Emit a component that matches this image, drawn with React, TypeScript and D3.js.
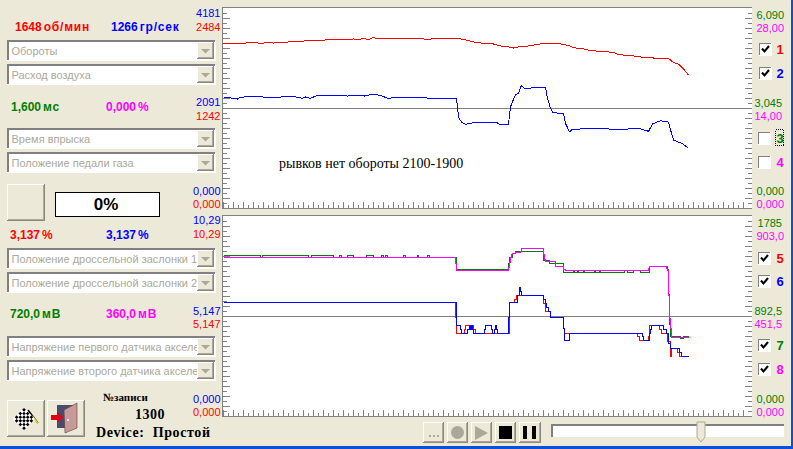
import React from "react";
import * as d3 from "d3";

// one sample per pixel column, the log is cut at sample 465 (record 1300)
const xDomain = [0, 528];

type Sample = [number, number];

const rpm: Sample[] = [
  [0, 2037], [5, 2043], [10, 2043], [15, 2049], [20, 2043], [25, 2055], [30, 2055], [35, 2049],
  [40, 2049], [45, 2055], [50, 2049], [55, 2055], [60, 2052], [65, 2062], [70, 2068], [75, 2062],
  [80, 2074], [85, 2083], [90, 2083], [95, 2083], [100, 2083], [105, 2093], [110, 2087], [115, 2093],
  [120, 2087], [125, 2093], [130, 2099], [135, 2093], [140, 2105], [145, 2093], [150, 2118], [155, 2099],
  [160, 2108], [165, 2108], [170, 2105], [175, 2099], [180, 2105], [185, 2105], [190, 2099], [195, 2105],
  [200, 2099], [205, 2093], [210, 2105], [215, 2105], [220, 2105], [225, 2108], [230, 2105], [235, 2105],
  [240, 2093], [245, 2080], [250, 2062], [255, 2055], [260, 2043], [265, 2037], [270, 2037], [275, 2018],
  [280, 2006], [285, 2000], [290, 1987], [295, 2000], [300, 2006], [305, 2012], [310, 2024], [315, 2031],
  [320, 2049], [325, 2049], [330, 2043], [335, 2043], [340, 2031], [345, 2018], [350, 1993], [355, 1981],
  [360, 1975], [365, 1962], [370, 1956], [375, 1944], [380, 1938], [385, 1938], [390, 1931], [395, 1906],
  [400, 1900], [405, 1894], [410, 1888], [415, 1882], [420, 1869], [425, 1875], [430, 1863], [435, 1863],
  [440, 1857], [445, 1857], [450, 1807], [455, 1788], [460, 1726], [465, 1652],
];

const air: Sample[] = [
  [0, 2305], [8, 2299], [13, 2299], [14, 2278], [17, 2314], [27, 2330], [40, 2320], [57, 2320],
  [68, 2326], [77, 2314], [78, 2289], [82, 2320], [87, 2293], [94, 2355], [112, 2355], [124, 2341],
  [139, 2355], [141, 2341], [147, 2368], [152, 2372], [157, 2355], [164, 2293], [177, 2314], [204, 2299],
  [233, 2293], [234, 2117], [235, 1896], [238, 1797], [242, 1749], [250, 1783], [274, 1783], [275, 1756],
  [285, 1749], [286, 1944], [287, 2117], [289, 2222], [292, 2362], [295, 2404], [298, 2564], [301, 2502],
  [317, 2518], [322, 2523], [324, 2293], [327, 2084], [329, 2000], [340, 1965], [342, 1770], [346, 1595],
  [349, 1645], [374, 1666], [390, 1645], [417, 1657], [425, 1603], [429, 1756], [437, 1825], [445, 1797],
  [448, 1561], [450, 1421], [459, 1344], [465, 1248],
];

const throttleA: Sample[] = [
  [0, 5.85], [232, 5.08], [233, 4.25], [241, 4.45], [242, 4.66], [250, 4.45], [252, 4.25], [285, 4.25],
  [286, 5.85], [291, 6.0], [293, 6.21], [320, 5.8], [322, 5.4], [327, 5.08], [340, 4.5], [341, 4.25],
  [414, 4.08], [416, 3.88], [425, 4.08], [426, 4.66], [436, 4.45], [438, 4.25], [444, 3.82], [447, 3.07],
  [448, 3.48], [454, 3.26], [456, 3.07], [465, 3.07],
];

const throttleB: Sample[] = [
  [0, 5.85], [233, 4.66], [237, 4.45], [238, 4.25], [244, 4.45], [246, 4.66], [247, 4.45], [248, 4.66],
  [249, 4.45], [250, 4.25], [261, 4.45], [262, 4.66], [268, 4.45], [269, 4.25], [271, 4.45], [272, 4.66],
  [273, 4.45], [274, 4.25], [285, 5.08], [286, 5.85], [294, 6.21], [296, 6.62], [297, 6.42], [298, 6.21],
  [320, 6.0], [322, 5.8], [323, 5.6], [325, 5.4], [327, 5.08], [340, 4.5], [341, 3.88], [346, 4.25],
  [419, 4.08], [420, 3.88], [426, 4.25], [427, 4.45], [428, 4.66], [440, 4.45], [443, 4.25], [445, 3.74],
  [447, 3.48], [456, 3.26], [458, 3.07], [465, 3.07],
];

const pedalA: Sample[] = [
  [0, 1434], [37, 1416], [39, 1434], [85, 1416], [88, 1434], [110, 1416], [116, 1434], [118, 1416],
  [124, 1434], [130, 1416], [143, 1434], [150, 1416], [158, 1434], [160, 1416], [162, 1434], [164, 1416],
  [180, 1434], [182, 1416], [194, 1434], [195, 1416], [204, 1434], [206, 1416], [233, 1309], [285, 1362],
  [286, 1416], [289, 1446], [292, 1470], [320, 1386], [326, 1357], [340, 1279], [350, 1297], [351, 1279],
  [354, 1297], [355, 1279], [360, 1297], [361, 1279], [371, 1297], [372, 1279], [376, 1297], [377, 1279],
  [401, 1297], [404, 1279], [410, 1297], [417, 1279], [426, 1336], [444, 1309], [445, 1080], [446, 820],
  [447, 708], [457, 696], [460, 708], [465, 708],
];

const pedalB: Sample[] = [
  [0, 716], [232, 689], [233, 658], [285, 671], [286, 694], [287, 716], [288, 731], [289, 734],
  [292, 739], [297, 744], [298, 757], [320, 727], [321, 705], [322, 697], [332, 677], [340, 662],
  [342, 656], [425, 667], [426, 676], [443, 667], [444, 659], [445, 545], [446, 441], [447, 396],
  [448, 355], [465, 355],
];

const leftLabels = [
  { text: "4181", y: 12.5, color: "#0000ff" },
  { text: "2484", y: 26.5, color: "#ff0000" },
  { text: "2091", y: 102, color: "#0000ff" },
  { text: "1242", y: 115.5, color: "#ff0000" },
  { text: "0,000", y: 190.5, color: "#0000ff" },
  { text: "0,000", y: 203.5, color: "#ff0000" },
  { text: "10,29", y: 220, color: "#0000ff" },
  { text: "10,29", y: 234, color: "#ff0000" },
  { text: "5,147", y: 310.5, color: "#0000ff" },
  { text: "5,147", y: 323.5, color: "#ff0000" },
  { text: "0,000", y: 398.5, color: "#0000ff" },
  { text: "0,000", y: 411.5, color: "#ff0000" },
];

const rightLabels = [
  { text: "6,090", x: 784, y: 14.5, color: "#008000" },
  { text: "28,00", x: 784, y: 27.5, color: "#ff00ff" },
  { text: "3,045", x: 782, y: 102.5, color: "#008000" },
  { text: "14,00", x: 782, y: 115.5, color: "#ff00ff" },
  { text: "0,000", x: 784, y: 190.5, color: "#008000" },
  { text: "0,000", x: 784, y: 204, color: "#ff00ff" },
  { text: "1785", x: 782, y: 222.5, color: "#008000" },
  { text: "903,0", x: 784, y: 235.5, color: "#ff00ff" },
  { text: "892,5", x: 782, y: 310.5, color: "#008000" },
  { text: "451,5", x: 782, y: 323.5, color: "#ff00ff" },
  { text: "0,000", x: 784, y: 398.5, color: "#008000" },
  { text: "0,000", x: 784, y: 412, color: "#ff00ff" },
];

const readouts = [
  { value: "1648", unit: "об/мин", x: 15, y: 26.5, color: "#ff0000" },
  { value: "1266", unit: "гр/сек", x: 111, y: 26.5, color: "#0000ff" },
  { value: "1,600", unit: "мс", x: 11, y: 106.5, color: "#008000" },
  { value: "0,000", unit: "%", x: 106, y: 106.5, color: "#ff00ff" },
  { value: "3,137", unit: "%", x: 10, y: 234.5, color: "#ff0000" },
  { value: "3,137", unit: "%", x: 106, y: 234.5, color: "#0000ff" },
  { value: "720,0", unit: "мВ", x: 10, y: 314, color: "#008000" },
  { value: "360,0", unit: "мВ", x: 106, y: 314, color: "#ff00ff" },
];

const combos = [
  { text: "Обороты", y: 41 },
  { text: "Расход воздуха", y: 65 },
  { text: "Время впрыска", y: 129 },
  { text: "Положение педали газа", y: 153 },
  { text: "Положение дроссельной заслонки 1", y: 249 },
  { text: "Положение дроссельной заслонки 2", y: 273 },
  { text: "Напряжение первого датчика акселератора", y: 337 },
  { text: "Напряжение второго датчика акселератора", y: 361 },
];

const checks = [
  { label: "1", y: 43, x: 759, checked: true, color: "#ff0000" },
  { label: "2", y: 67, x: 759, checked: true, color: "#0000ff" },
  { label: "3", y: 132, x: 758, checked: false, color: "#008000" },
  { label: "4", y: 156, x: 758, checked: false, color: "#ff00ff" },
  { label: "5", y: 252, x: 758, checked: true, color: "#ff0000" },
  { label: "6", y: 275, x: 758, checked: true, color: "#0000ff" },
  { label: "7", y: 339, x: 758, checked: true, color: "#008000" },
  { label: "8", y: 363, x: 758, checked: true, color: "#ff00ff" },
];

const BG = "#ece9d8";
const GRAY = "#808080";
const UI_FONT = "'Liberation Sans', sans-serif";

const plotLeft = 223;
const plotRight = 752;
const xScale = d3.scaleLinear().domain(xDomain).range([plotLeft, plotRight - 1]);

function Raised({ x, y, w, h }: { x: number; y: number; w: number; h: number }) {
  return (
    <g shapeRendering="crispEdges">
      <rect x={x} y={y} width={w} height={h} fill={BG} />
      <path d={`M${x + 0.5} ${y + h}V${y + 0.5}H${x + w}`} stroke="#ffffff" fill="none" />
      <path d={`M${x + w - 0.5} ${y}V${y + h - 0.5}H${x}`} stroke="#8c8a7c" fill="none" />
      <path d={`M${x + w - 1.5} ${y + 1}V${y + h - 1.5}H${x + 1}`} stroke="#aca899" fill="none" />
    </g>
  );
}

function Plot({ top, children }: { top: number; children: React.ReactNode }) {
  const bottom = top + 200;
  const div = d3.scaleLinear().domain([0, 40]).range([bottom, top]);
  const rows = d3.range(1, 40);
  const cols = d3.range(0, 105);
  return (
    <g shapeRendering="crispEdges">
      <rect x={plotLeft} y={top} width={plotRight - plotLeft} height={200} fill="#fff" />
      <g stroke={GRAY} strokeWidth={1}>
        {rows.map((r) => {
          const len = r % 2 === 0 ? 7 : 4;
          return (
            <g key={r}>
              <line x1={plotLeft} x2={plotLeft + len} y1={div(r) + 0.5} y2={div(r) + 0.5} />
              <line x1={plotRight - len} x2={plotRight} y1={div(r) + 0.5} y2={div(r) + 0.5} />
            </g>
          );
        })}
        {cols.map((c) => {
          const x = xScale(c * 5) + 0.5;
          const len = c % 2 === 0 ? 6 : 3;
          return <line key={c} x1={x} x2={x} y1={bottom - len} y2={bottom} />;
        })}
        <line x1={plotLeft} x2={plotRight} y1={div(20) + 0.5} y2={div(20) + 0.5} />
        <line x1={plotLeft - 0.5} x2={plotRight} y1={top - 0.5} y2={top - 0.5} strokeWidth={1.5} />
        <line x1={plotLeft - 0.5} x2={plotRight} y1={bottom + 0.5} y2={bottom + 0.5} strokeWidth={1.5} />
        <line x1={plotLeft - 0.5} x2={plotLeft - 0.5} y1={top - 1} y2={bottom + 1} strokeWidth={1.5} />
      </g>
      {children}
    </g>
  );
}

function Trace({
  data,
  max,
  top,
  color,
  curve,
}: {
  data: Sample[];
  max: number;
  top: number;
  color: string;
  curve: d3.CurveFactory;
}) {
  const yScale = d3.scaleLinear().domain([0, max]).range([top + 200, top]);
  const gen = d3
    .line<Sample>()
    .x((d) => xScale(d[0]) + 0.5)
    .y((d) => yScale(d[1]))
    .curve(curve);
  return <path d={gen(data) ?? ""} fill="none" stroke={color} strokeWidth={1} shapeRendering="crispEdges" />;
}

function Combo({ text, y, id }: { text: string; y: number; id: string }) {
  return (
    <g>
      <rect x={7} y={y} width={208} height={19} fill="#fff" />
      <path d={`M8 ${y + 19}V${y}H215`} stroke={GRAY} strokeWidth={2} fill="none" shapeRendering="crispEdges" />
      <path d={`M7 ${y + 19.5}H215.5V${y}`} stroke="#fff" fill="none" shapeRendering="crispEdges" />
      <clipPath id={id}>
        <rect x={10} y={y} width={187} height={19} />
      </clipPath>
      <text x={11.5} y={y + 14} fontFamily={UI_FONT} fontSize={11} fill="#aca899" clipPath={`url(#${id})`}>
        {text}
      </text>
      <Raised x={197} y={y + 1} w={17} h={17} />
      <path d={`M201 ${y + 8}h9l-4.5 4.5z`} fill="#aca899" />
    </g>
  );
}

function Check({ x, y, checked }: { x: number; y: number; checked: boolean }) {
  return (
    <g shapeRendering="crispEdges">
      <rect x={x} y={y} width={12} height={12} fill="#fff" />
      <path d={`M${x + 0.5} ${y + 12}V${y + 0.5}H${x + 12}`} stroke={GRAY} fill="none" />
      <path d={`M${x} ${y + 12.5}H${x + 12.5}V${y}`} stroke="#fff" fill="none" />
      {checked && (
        <path
          d={`M${x + 3} ${y + 5.5}l2.5 3l4.5 -5.5`}
          stroke="#000"
          strokeWidth={2}
          fill="none"
          shapeRendering="auto"
        />
      )}
    </g>
  );
}

function FlagIcon() {
  const cells = d3.range(0, 6).flatMap((a) => d3.range(0, 6).map((b) => [a, b]));
  const size = 2.6;
  return (
    <g>
      <path d="M28 410L38 423" stroke="#000" strokeWidth={1.5} />
      <path d="M32 416L38 423" stroke="#e8d800" strokeWidth={1.5} />
      <g transform="translate(24,419) rotate(45)">
        <rect x={-7.8} y={-7.8} width={15.6} height={15.6} fill="#fff" />
        {cells.map(([a, b]) =>
          (a + b) % 2 === 0 ? (
            <rect key={`${a}-${b}`} x={-7.8 + a * size} y={-7.8 + b * size} width={size} height={size} fill="#000" />
          ) : null,
        )}
      </g>
    </g>
  );
}

function DoorIcon() {
  return (
    <g>
      <path d="M57 405H75V428H57Z" fill="#4a4a6e" />
      <path d="M64 410L77 403V428L65 433Z" fill="#c79a98" stroke="#5e4040" strokeWidth={0.6} />
      <rect x={67} y={419} width={2} height={2} fill="#eee" />
      <path d="M51 415h6v-3l6 5.5l-6 5.5v-3h-6z" fill="#e0000f" />
    </g>
  );
}

export default function App() {
  return (
    <svg
      width={793}
      height={449}
      style={{ position: "fixed", left: 0, top: 0, background: BG }}
      fontFamily={UI_FONT}
    >
      <rect x={0} y={446} width={793} height={3} fill="#0a50d8" />
      <rect x={791} y={0} width={2} height={449} fill="#0a50d8" />

      <Plot top={8}>
        <Trace data={rpm} max={2484} top={8} color="#ff0000" curve={d3.curveLinear} />
        <Trace data={air} max={4181} top={8} color="#0000ff" curve={d3.curveLinear} />
      </Plot>
      <text x={279} y={168} fontFamily="'Liberation Serif', serif" fontSize={14} fill="#000">
        рывков нет обороты 2100-1900
      </text>

      <Plot top={216}>
        <Trace data={pedalA} max={1785} top={216} color="#008000" curve={d3.curveStepAfter} />
        <Trace data={pedalB} max={903} top={216} color="#ff00ff" curve={d3.curveStepAfter} />
        <Trace data={throttleA} max={10.29} top={216} color="#ff0000" curve={d3.curveStepAfter} />
        <Trace data={throttleB} max={10.29} top={216} color="#0000ff" curve={d3.curveStepAfter} />
      </Plot>

      {leftLabels.map((l, i) => (
        <text key={i} x={220.5} y={l.y + 4} textAnchor="end" fontSize={11} fill={l.color}>
          {l.text}
        </text>
      ))}
      {rightLabels.map((l, i) => (
        <text key={i} x={l.x} y={l.y + 4} textAnchor="end" fontSize={11} fill={l.color}>
          {l.text}
        </text>
      ))}

      {readouts.map((r, i) => (
        <text key={i} x={r.x} y={r.y + 4} fontSize={12} fontWeight="bold" fill={r.color}>
          {r.value}
          <tspan dx={2} letterSpacing={0.8}>
            {r.unit}
          </tspan>
        </text>
      ))}

      {combos.map((c, i) => (
        <Combo key={c.text} text={c.text} y={c.y} id={`combo-${i}`} />
      ))}

      {checks.map((c) => (
        <g key={c.label}>
          <Check x={c.x} y={c.y} checked={c.checked} />
          <text x={780} y={c.y + 11} textAnchor="middle" fontSize={13} fontWeight="bold" fill={c.color}>
            {c.label}
          </text>
        </g>
      ))}
      <rect x={775.5} y={129.5} width={8} height={16} fill="none" stroke="#000" strokeDasharray="1 1" shapeRendering="crispEdges" />

      <Raised x={7} y={184} w={38} h={37} />
      <rect x={55.5} y={192.5} width={104} height={24} fill="#fff" stroke="#000" shapeRendering="crispEdges" />
      <text x={106} y={210} textAnchor="middle" fontSize={17} fontWeight="bold" fill="#000">
        0%
      </text>

      <Raised x={7} y={400} w={38} h={37} />
      <FlagIcon />
      <Raised x={47} y={400} w={38} h={37} />
      <DoorIcon />

      <g fontFamily="'Liberation Serif', serif" fontWeight="bold" fill="#000">
        <text x={103} y={401} fontSize={11}>
          №записи
        </text>
        <text x={135} y={419} fontSize={14} letterSpacing={0.5}>
          1300
        </text>
        <text x={96} y={437} fontSize={14} letterSpacing={0.6} xmlSpace="preserve">
          Device:  Простой
        </text>
      </g>

      {/* transport */}
      <Raised x={423} y={422} w={21} h={21} />
      <g fill="#aca899">
        <rect x={429} y={435} width={2} height={2} />
        <rect x={433} y={435} width={2} height={2} />
        <rect x={437} y={435} width={2} height={2} />
      </g>
      <Raised x={447} y={422} w={21} h={21} />
      <circle cx={457.5} cy={432.5} r={6.5} fill="#aca899" />
      <Raised x={471} y={422} w={21} h={21} />
      <path d="M475 426L488 433L475 440Z" fill="#aca899" />
      <Raised x={495} y={422} w={21} h={21} />
      <rect x={499} y={426} width={13} height={13} fill="#000" />
      <Raised x={519} y={422} w={22} h={21} />
      <rect x={523} y={426} width={4} height={13} fill="#000" />
      <rect x={532} y={426} width={4} height={13} fill="#000" />

      <rect x={551} y={424} width={233} height={13} fill="#fff" />
      <path d="M551.5 437V424.5H784" stroke={GRAY} strokeWidth={2} fill="none" shapeRendering="crispEdges" />
      <path d="M697 422H705V437L701 442L697 437Z" fill={BG} stroke="#aca899" />
    </svg>
  );
}
